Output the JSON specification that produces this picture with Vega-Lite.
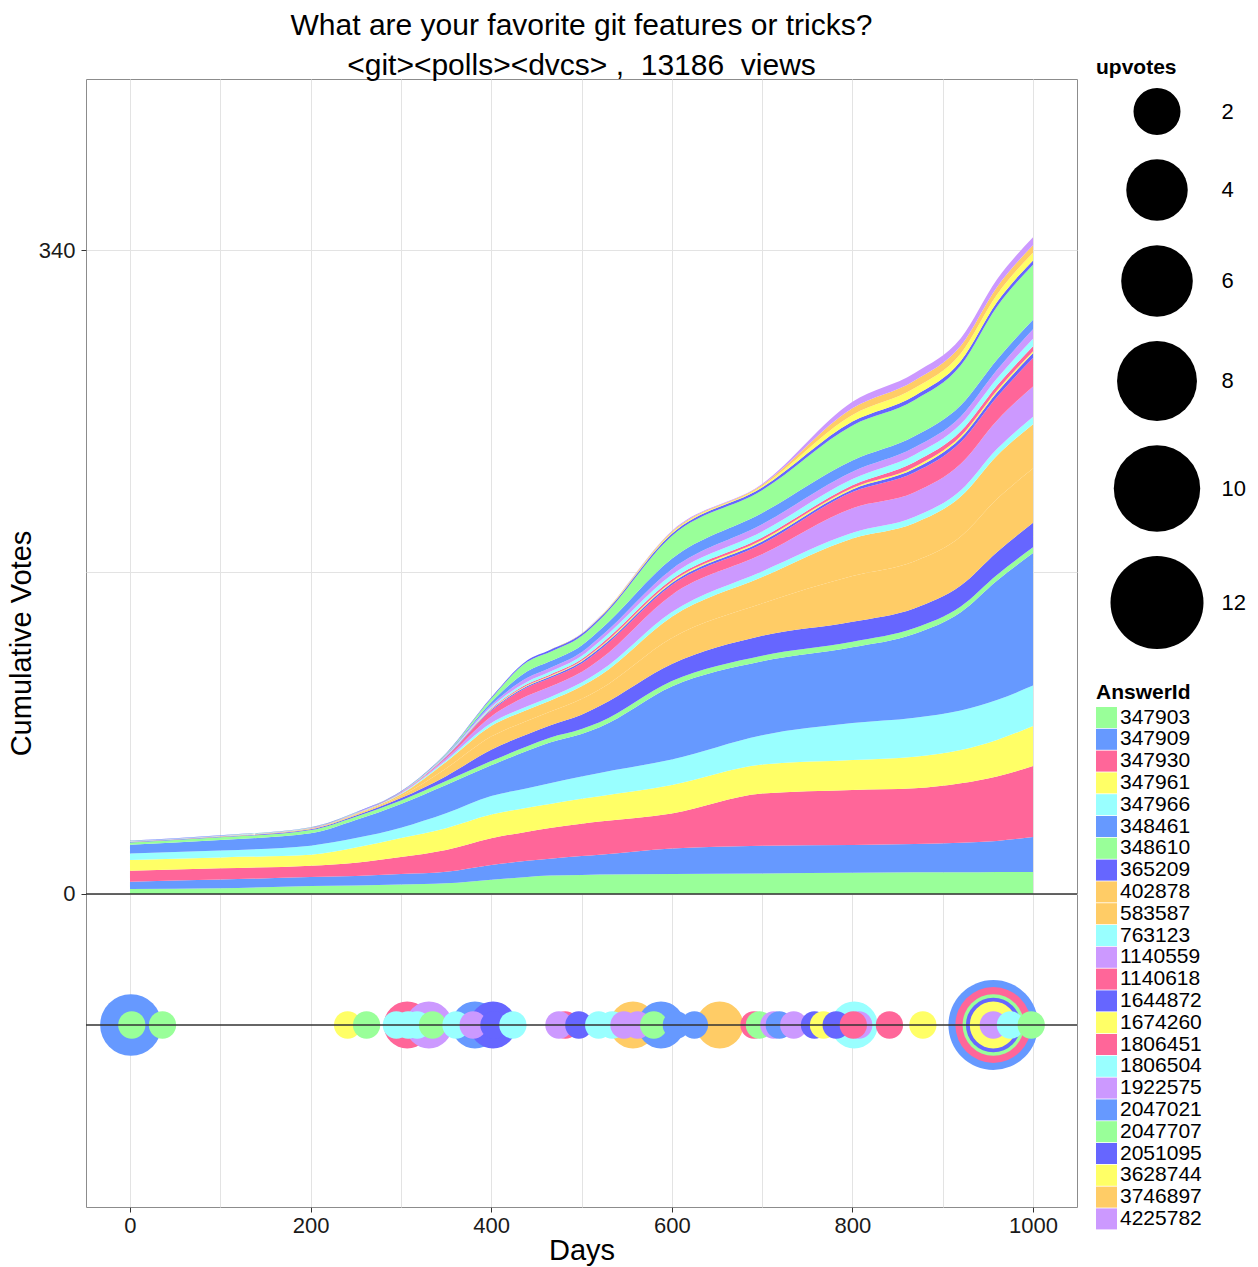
{
"$schema": "https://vega.github.io/schema/vega-lite/v6.json",
"width": 991, "height": 1128,
"autosize": {"type": "none"},
"padding": {"left": 86, "top": 79, "right": 181, "bottom": 60},
"background": "white",
"title": {"text": ["What are your favorite git features or tricks?", "<git><polls><dvcs> ,\u00a0 13186\u00a0 views"], "fontSize": 30, "fontWeight": "normal", "font": "Liberation Sans", "color": "#000", "lineHeight": 40, "anchor": "middle", "frame": "group", "offset": -24},
"datasets": {
"areas": [
{"day":0,"AnswerId":347903,"votes":2.6},{"day":100,"AnswerId":347903,"votes":3.0},{"day":200,"AnswerId":347903,"votes":4.2},{"day":250,"AnswerId":347903,"votes":4.5},{"day":300,"AnswerId":347903,"votes":5.0},{"day":350,"AnswerId":347903,"votes":5.6},{"day":400,"AnswerId":347903,"votes":7.5},{"day":440,"AnswerId":347903,"votes":9.0},{"day":465,"AnswerId":347903,"votes":9.8},{"day":500,"AnswerId":347903,"votes":10.0},{"day":520,"AnswerId":347903,"votes":10.2},{"day":600,"AnswerId":347903,"votes":10.5},{"day":700,"AnswerId":347903,"votes":10.8},{"day":800,"AnswerId":347903,"votes":11.2},{"day":869,"AnswerId":347903,"votes":11.4},{"day":920,"AnswerId":347903,"votes":11.4},{"day":960,"AnswerId":347903,"votes":11.6},{"day":1000,"AnswerId":347903,"votes":11.6},
{"day":0,"AnswerId":347909,"votes":3.9},{"day":100,"AnswerId":347909,"votes":4.6},{"day":200,"AnswerId":347909,"votes":4.7},{"day":250,"AnswerId":347909,"votes":5.0},{"day":300,"AnswerId":347909,"votes":5.5},{"day":350,"AnswerId":347909,"votes":6.1},{"day":400,"AnswerId":347909,"votes":7.8},{"day":440,"AnswerId":347909,"votes":8.5},{"day":465,"AnswerId":347909,"votes":8.8},{"day":500,"AnswerId":347909,"votes":10.0},{"day":520,"AnswerId":347909,"votes":10.5},{"day":600,"AnswerId":347909,"votes":13.5},{"day":700,"AnswerId":347909,"votes":14.7},{"day":800,"AnswerId":347909,"votes":14.7},{"day":869,"AnswerId":347909,"votes":15.0},{"day":920,"AnswerId":347909,"votes":15.6},{"day":960,"AnswerId":347909,"votes":16.4},{"day":1000,"AnswerId":347909,"votes":18.4},
{"day":0,"AnswerId":347930,"votes":5.8},{"day":100,"AnswerId":347930,"votes":5.9},{"day":200,"AnswerId":347930,"votes":6.0},{"day":250,"AnswerId":347930,"votes":7.0},{"day":300,"AnswerId":347930,"votes":9.0},{"day":350,"AnswerId":347930,"votes":11.5},{"day":400,"AnswerId":347930,"votes":14.1},{"day":440,"AnswerId":347930,"votes":15.4},{"day":465,"AnswerId":347930,"votes":16.2},{"day":500,"AnswerId":347930,"votes":17.0},{"day":520,"AnswerId":347930,"votes":17.5},{"day":600,"AnswerId":347930,"votes":18.5},{"day":700,"AnswerId":347930,"votes":27.5},{"day":800,"AnswerId":347930,"votes":29.0},{"day":869,"AnswerId":347930,"votes":29.4},{"day":920,"AnswerId":347930,"votes":31.4},{"day":960,"AnswerId":347930,"votes":34.0},{"day":1000,"AnswerId":347930,"votes":37.6},
{"day":0,"AnswerId":347961,"votes":5.6},{"day":100,"AnswerId":347961,"votes":5.8},{"day":200,"AnswerId":347961,"votes":5.8},{"day":250,"AnswerId":347961,"votes":8.0},{"day":300,"AnswerId":347961,"votes":10.0},{"day":350,"AnswerId":347961,"votes":11.5},{"day":400,"AnswerId":347961,"votes":12.5},{"day":440,"AnswerId":347961,"votes":12.6},{"day":465,"AnswerId":347961,"votes":12.7},{"day":500,"AnswerId":347961,"votes":13.2},{"day":520,"AnswerId":347961,"votes":13.4},{"day":600,"AnswerId":347961,"votes":15.0},{"day":700,"AnswerId":347961,"votes":15.3},{"day":800,"AnswerId":347961,"votes":15.8},{"day":869,"AnswerId":347961,"votes":16.7},{"day":920,"AnswerId":347961,"votes":17.6},{"day":960,"AnswerId":347961,"votes":19.3},{"day":1000,"AnswerId":347961,"votes":21.1},
{"day":0,"AnswerId":347966,"votes":3.5},{"day":100,"AnswerId":347966,"votes":3.6},{"day":200,"AnswerId":347966,"votes":4.8},{"day":250,"AnswerId":347966,"votes":5.0},{"day":300,"AnswerId":347966,"votes":5.5},{"day":350,"AnswerId":347966,"votes":7.9},{"day":400,"AnswerId":347966,"votes":9.8},{"day":440,"AnswerId":347966,"votes":10.3},{"day":465,"AnswerId":347966,"votes":10.9},{"day":500,"AnswerId":347966,"votes":11.8},{"day":520,"AnswerId":347966,"votes":12.3},{"day":600,"AnswerId":347966,"votes":13.5},{"day":700,"AnswerId":347966,"votes":15.5},{"day":800,"AnswerId":347966,"votes":19.5},{"day":869,"AnswerId":347966,"votes":20.5},{"day":920,"AnswerId":347966,"votes":20.8},{"day":960,"AnswerId":347966,"votes":21.1},{"day":1000,"AnswerId":347966,"votes":21.3},
{"day":0,"AnswerId":348461,"votes":4.6},{"day":100,"AnswerId":348461,"votes":5.6},{"day":200,"AnswerId":348461,"votes":6.5},{"day":250,"AnswerId":348461,"votes":9.5},{"day":300,"AnswerId":348461,"votes":12.5},{"day":350,"AnswerId":348461,"votes":14.9},{"day":400,"AnswerId":348461,"votes":16.2},{"day":440,"AnswerId":348461,"votes":19.8},{"day":465,"AnswerId":348461,"votes":21.6},{"day":500,"AnswerId":348461,"votes":22.5},{"day":520,"AnswerId":348461,"votes":24.1},{"day":600,"AnswerId":348461,"votes":38.5},{"day":700,"AnswerId":348461,"votes":39.0},{"day":800,"AnswerId":348461,"votes":40.0},{"day":869,"AnswerId":348461,"votes":44.4},{"day":920,"AnswerId":348461,"votes":52.0},{"day":960,"AnswerId":348461,"votes":63.0},{"day":1000,"AnswerId":348461,"votes":70.0},
{"day":0,"AnswerId":348610,"votes":1.2},{"day":100,"AnswerId":348610,"votes":1.4},{"day":200,"AnswerId":348610,"votes":1.7},{"day":250,"AnswerId":348610,"votes":1.8},{"day":300,"AnswerId":348610,"votes":1.9},{"day":350,"AnswerId":348610,"votes":2.1},{"day":400,"AnswerId":348610,"votes":2.3},{"day":440,"AnswerId":348610,"votes":2.4},{"day":465,"AnswerId":348610,"votes":2.5},{"day":500,"AnswerId":348610,"votes":2.6},{"day":520,"AnswerId":348610,"votes":2.7},{"day":600,"AnswerId":348610,"votes":2.9},{"day":700,"AnswerId":348610,"votes":3.0},{"day":800,"AnswerId":348610,"votes":3.0},{"day":869,"AnswerId":348610,"votes":3.0},{"day":920,"AnswerId":348610,"votes":3.0},{"day":960,"AnswerId":348610,"votes":3.0},{"day":1000,"AnswerId":348610,"votes":3.0},
{"day":0,"AnswerId":365209,"votes":0.2},{"day":100,"AnswerId":365209,"votes":0.3},{"day":200,"AnswerId":365209,"votes":0.4},{"day":250,"AnswerId":365209,"votes":0.6},{"day":300,"AnswerId":365209,"votes":1.2},{"day":350,"AnswerId":365209,"votes":2.6},{"day":400,"AnswerId":365209,"votes":6.0},{"day":440,"AnswerId":365209,"votes":6.3},{"day":465,"AnswerId":365209,"votes":6.5},{"day":500,"AnswerId":365209,"votes":7.5},{"day":520,"AnswerId":365209,"votes":8.5},{"day":600,"AnswerId":365209,"votes":9.0},{"day":700,"AnswerId":365209,"votes":10.5},{"day":800,"AnswerId":365209,"votes":10.5},{"day":869,"AnswerId":365209,"votes":10.5},{"day":920,"AnswerId":365209,"votes":11.0},{"day":960,"AnswerId":365209,"votes":12.0},{"day":1000,"AnswerId":365209,"votes":13.0},
{"day":0,"AnswerId":402878,"votes":0.1},{"day":100,"AnswerId":402878,"votes":0.1},{"day":200,"AnswerId":402878,"votes":0.2},{"day":250,"AnswerId":402878,"votes":0.4},{"day":300,"AnswerId":402878,"votes":1.1},{"day":350,"AnswerId":402878,"votes":4.1},{"day":400,"AnswerId":402878,"votes":6.9},{"day":440,"AnswerId":402878,"votes":7.2},{"day":465,"AnswerId":402878,"votes":7.2},{"day":500,"AnswerId":402878,"votes":8.3},{"day":520,"AnswerId":402878,"votes":8.8},{"day":600,"AnswerId":402878,"votes":13.8},{"day":700,"AnswerId":402878,"votes":17.1},{"day":800,"AnswerId":402878,"votes":24.2},{"day":869,"AnswerId":402878,"votes":24.8},{"day":920,"AnswerId":402878,"votes":25.9},{"day":960,"AnswerId":402878,"votes":28.1},{"day":1000,"AnswerId":402878,"votes":28.6},
{"day":0,"AnswerId":583587,"votes":0.1},{"day":100,"AnswerId":583587,"votes":0.1},{"day":200,"AnswerId":583587,"votes":0.2},{"day":250,"AnswerId":583587,"votes":0.4},{"day":300,"AnswerId":583587,"votes":0.9},{"day":350,"AnswerId":583587,"votes":3.4},{"day":400,"AnswerId":583587,"votes":5.6},{"day":440,"AnswerId":583587,"votes":5.8},{"day":465,"AnswerId":583587,"votes":5.8},{"day":500,"AnswerId":583587,"votes":6.7},{"day":520,"AnswerId":583587,"votes":7.2},{"day":600,"AnswerId":583587,"votes":11.2},{"day":700,"AnswerId":583587,"votes":13.9},{"day":800,"AnswerId":583587,"votes":19.8},{"day":869,"AnswerId":583587,"votes":20.2},{"day":920,"AnswerId":583587,"votes":21.1},{"day":960,"AnswerId":583587,"votes":22.9},{"day":1000,"AnswerId":583587,"votes":23.4},
{"day":0,"AnswerId":763123,"votes":0.1},{"day":100,"AnswerId":763123,"votes":0.1},{"day":200,"AnswerId":763123,"votes":0.1},{"day":250,"AnswerId":763123,"votes":0.2},{"day":300,"AnswerId":763123,"votes":0.4},{"day":350,"AnswerId":763123,"votes":0.8},{"day":400,"AnswerId":763123,"votes":1.5},{"day":440,"AnswerId":763123,"votes":1.8},{"day":465,"AnswerId":763123,"votes":1.9},{"day":500,"AnswerId":763123,"votes":2.0},{"day":520,"AnswerId":763123,"votes":2.2},{"day":600,"AnswerId":763123,"votes":2.5},{"day":700,"AnswerId":763123,"votes":3.0},{"day":800,"AnswerId":763123,"votes":3.0},{"day":869,"AnswerId":763123,"votes":3.2},{"day":920,"AnswerId":763123,"votes":3.3},{"day":960,"AnswerId":763123,"votes":3.5},{"day":1000,"AnswerId":763123,"votes":4.0},
{"day":0,"AnswerId":1140559,"votes":0.1},{"day":100,"AnswerId":1140559,"votes":0.1},{"day":200,"AnswerId":1140559,"votes":0.1},{"day":250,"AnswerId":1140559,"votes":0.1},{"day":300,"AnswerId":1140559,"votes":0.3},{"day":350,"AnswerId":1140559,"votes":1.0},{"day":400,"AnswerId":1140559,"votes":3.5},{"day":440,"AnswerId":1140559,"votes":5.5},{"day":465,"AnswerId":1140559,"votes":5.5},{"day":500,"AnswerId":1140559,"votes":5.6},{"day":520,"AnswerId":1140559,"votes":6.3},{"day":600,"AnswerId":1140559,"votes":9.0},{"day":700,"AnswerId":1140559,"votes":9.0},{"day":800,"AnswerId":1140559,"votes":13.0},{"day":869,"AnswerId":1140559,"votes":13.0},{"day":920,"AnswerId":1140559,"votes":14.0},{"day":960,"AnswerId":1140559,"votes":15.0},{"day":1000,"AnswerId":1140559,"votes":16.0},
{"day":0,"AnswerId":1140618,"votes":0},{"day":100,"AnswerId":1140618,"votes":0},{"day":200,"AnswerId":1140618,"votes":0.1},{"day":250,"AnswerId":1140618,"votes":0.1},{"day":300,"AnswerId":1140618,"votes":0.2},{"day":350,"AnswerId":1140618,"votes":0.7},{"day":400,"AnswerId":1140618,"votes":3.0},{"day":440,"AnswerId":1140618,"votes":4.5},{"day":465,"AnswerId":1140618,"votes":4.5},{"day":500,"AnswerId":1140618,"votes":4.5},{"day":520,"AnswerId":1140618,"votes":5.0},{"day":600,"AnswerId":1140618,"votes":5.2},{"day":700,"AnswerId":1140618,"votes":5.5},{"day":800,"AnswerId":1140618,"votes":8.5},{"day":869,"AnswerId":1140618,"votes":10.5},{"day":920,"AnswerId":1140618,"votes":11.5},{"day":960,"AnswerId":1140618,"votes":12.5},{"day":1000,"AnswerId":1140618,"votes":15.0},
{"day":0,"AnswerId":1644872,"votes":0},{"day":100,"AnswerId":1644872,"votes":0},{"day":200,"AnswerId":1644872,"votes":0},{"day":250,"AnswerId":1644872,"votes":0},{"day":300,"AnswerId":1644872,"votes":0},{"day":350,"AnswerId":1644872,"votes":0.2},{"day":400,"AnswerId":1644872,"votes":0.5},{"day":440,"AnswerId":1644872,"votes":0.7},{"day":465,"AnswerId":1644872,"votes":0.8},{"day":500,"AnswerId":1644872,"votes":0.9},{"day":520,"AnswerId":1644872,"votes":1.0},{"day":600,"AnswerId":1644872,"votes":1.1},{"day":700,"AnswerId":1644872,"votes":1.3},{"day":800,"AnswerId":1644872,"votes":1.4},{"day":869,"AnswerId":1644872,"votes":2.0},{"day":920,"AnswerId":1644872,"votes":2.2},{"day":960,"AnswerId":1644872,"votes":2.4},{"day":1000,"AnswerId":1644872,"votes":2.6},
{"day":0,"AnswerId":1674260,"votes":0},{"day":100,"AnswerId":1674260,"votes":0},{"day":200,"AnswerId":1674260,"votes":0},{"day":250,"AnswerId":1674260,"votes":0},{"day":300,"AnswerId":1674260,"votes":0},{"day":350,"AnswerId":1674260,"votes":0.1},{"day":400,"AnswerId":1674260,"votes":0.3},{"day":440,"AnswerId":1674260,"votes":0.4},{"day":465,"AnswerId":1674260,"votes":0.4},{"day":500,"AnswerId":1674260,"votes":0.5},{"day":520,"AnswerId":1674260,"votes":0.6},{"day":600,"AnswerId":1674260,"votes":0.7},{"day":700,"AnswerId":1674260,"votes":0.8},{"day":800,"AnswerId":1674260,"votes":0.8},{"day":869,"AnswerId":1674260,"votes":1.0},{"day":920,"AnswerId":1674260,"votes":1.0},{"day":960,"AnswerId":1674260,"votes":1.0},{"day":1000,"AnswerId":1674260,"votes":1.0},
{"day":0,"AnswerId":1806451,"votes":0},{"day":100,"AnswerId":1806451,"votes":0},{"day":200,"AnswerId":1806451,"votes":0},{"day":250,"AnswerId":1806451,"votes":0},{"day":300,"AnswerId":1806451,"votes":0},{"day":350,"AnswerId":1806451,"votes":0.1},{"day":400,"AnswerId":1806451,"votes":0.4},{"day":440,"AnswerId":1806451,"votes":0.6},{"day":465,"AnswerId":1806451,"votes":0.7},{"day":500,"AnswerId":1806451,"votes":0.8},{"day":520,"AnswerId":1806451,"votes":1.0},{"day":600,"AnswerId":1806451,"votes":1.1},{"day":700,"AnswerId":1806451,"votes":1.3},{"day":800,"AnswerId":1806451,"votes":1.4},{"day":869,"AnswerId":1806451,"votes":2.5},{"day":920,"AnswerId":1806451,"votes":2.5},{"day":960,"AnswerId":1806451,"votes":2.5},{"day":1000,"AnswerId":1806451,"votes":2.6},
{"day":0,"AnswerId":1806504,"votes":0.1},{"day":100,"AnswerId":1806504,"votes":0.1},{"day":200,"AnswerId":1806504,"votes":0.1},{"day":250,"AnswerId":1806504,"votes":0.1},{"day":300,"AnswerId":1806504,"votes":0.1},{"day":350,"AnswerId":1806504,"votes":0.3},{"day":400,"AnswerId":1806504,"votes":0.8},{"day":440,"AnswerId":1806504,"votes":1.3},{"day":465,"AnswerId":1806504,"votes":1.5},{"day":500,"AnswerId":1806504,"votes":1.7},{"day":520,"AnswerId":1806504,"votes":2.0},{"day":600,"AnswerId":1806504,"votes":2.5},{"day":700,"AnswerId":1806504,"votes":3.2},{"day":800,"AnswerId":1806504,"votes":3.3},{"day":869,"AnswerId":1806504,"votes":3.8},{"day":920,"AnswerId":1806504,"votes":3.8},{"day":960,"AnswerId":1806504,"votes":3.8},{"day":1000,"AnswerId":1806504,"votes":4.0},
{"day":0,"AnswerId":1922575,"votes":0},{"day":100,"AnswerId":1922575,"votes":0},{"day":200,"AnswerId":1922575,"votes":0},{"day":250,"AnswerId":1922575,"votes":0.1},{"day":300,"AnswerId":1922575,"votes":0.1},{"day":350,"AnswerId":1922575,"votes":0.3},{"day":400,"AnswerId":1922575,"votes":1.0},{"day":440,"AnswerId":1922575,"votes":2.0},{"day":465,"AnswerId":1922575,"votes":2.0},{"day":500,"AnswerId":1922575,"votes":2.0},{"day":520,"AnswerId":1922575,"votes":2.1},{"day":600,"AnswerId":1922575,"votes":3.0},{"day":700,"AnswerId":1922575,"votes":3.8},{"day":800,"AnswerId":1922575,"votes":3.8},{"day":869,"AnswerId":1922575,"votes":3.9},{"day":920,"AnswerId":1922575,"votes":4.0},{"day":960,"AnswerId":1922575,"votes":4.5},{"day":1000,"AnswerId":1922575,"votes":5.0},
{"day":0,"AnswerId":2047021,"votes":0.1},{"day":100,"AnswerId":2047021,"votes":0.1},{"day":200,"AnswerId":2047021,"votes":0.1},{"day":250,"AnswerId":2047021,"votes":0.1},{"day":300,"AnswerId":2047021,"votes":0.1},{"day":350,"AnswerId":2047021,"votes":0.3},{"day":400,"AnswerId":2047021,"votes":1.5},{"day":440,"AnswerId":2047021,"votes":3.5},{"day":465,"AnswerId":2047021,"votes":3.5},{"day":500,"AnswerId":2047021,"votes":3.6},{"day":520,"AnswerId":2047021,"votes":3.8},{"day":600,"AnswerId":2047021,"votes":5.5},{"day":700,"AnswerId":2047021,"votes":6.0},{"day":800,"AnswerId":2047021,"votes":6.0},{"day":869,"AnswerId":2047021,"votes":6.0},{"day":920,"AnswerId":2047021,"votes":6.0},{"day":960,"AnswerId":2047021,"votes":5.5},{"day":1000,"AnswerId":2047021,"votes":5.0},
{"day":0,"AnswerId":2047707,"votes":0.1},{"day":100,"AnswerId":2047707,"votes":0.1},{"day":200,"AnswerId":2047707,"votes":0.1},{"day":250,"AnswerId":2047707,"votes":0.1},{"day":300,"AnswerId":2047707,"votes":0.2},{"day":350,"AnswerId":2047707,"votes":0.5},{"day":400,"AnswerId":2047707,"votes":2.0},{"day":440,"AnswerId":2047707,"votes":5.0},{"day":465,"AnswerId":2047707,"votes":5.0},{"day":500,"AnswerId":2047707,"votes":5.0},{"day":520,"AnswerId":2047707,"votes":5.5},{"day":600,"AnswerId":2047707,"votes":12.0},{"day":700,"AnswerId":2047707,"votes":12.0},{"day":800,"AnswerId":2047707,"votes":18.5},{"day":869,"AnswerId":2047707,"votes":19.0},{"day":920,"AnswerId":2047707,"votes":21.0},{"day":960,"AnswerId":2047707,"votes":28.0},{"day":1000,"AnswerId":2047707,"votes":29.0},
{"day":0,"AnswerId":2051095,"votes":0.1},{"day":100,"AnswerId":2051095,"votes":0.1},{"day":200,"AnswerId":2051095,"votes":0.1},{"day":250,"AnswerId":2051095,"votes":0.1},{"day":300,"AnswerId":2051095,"votes":0.2},{"day":350,"AnswerId":2051095,"votes":0.3},{"day":400,"AnswerId":2051095,"votes":0.5},{"day":440,"AnswerId":2051095,"votes":0.8},{"day":465,"AnswerId":2051095,"votes":1.0},{"day":500,"AnswerId":2051095,"votes":1.0},{"day":520,"AnswerId":2051095,"votes":1.0},{"day":600,"AnswerId":2051095,"votes":1.2},{"day":700,"AnswerId":2051095,"votes":1.4},{"day":800,"AnswerId":2051095,"votes":2.0},{"day":869,"AnswerId":2051095,"votes":2.3},{"day":920,"AnswerId":2051095,"votes":2.3},{"day":960,"AnswerId":2051095,"votes":2.3},{"day":1000,"AnswerId":2051095,"votes":2.3},
{"day":0,"AnswerId":3628744,"votes":0},{"day":100,"AnswerId":3628744,"votes":0},{"day":200,"AnswerId":3628744,"votes":0},{"day":250,"AnswerId":3628744,"votes":0},{"day":300,"AnswerId":3628744,"votes":0},{"day":350,"AnswerId":3628744,"votes":0},{"day":400,"AnswerId":3628744,"votes":0},{"day":440,"AnswerId":3628744,"votes":0},{"day":465,"AnswerId":3628744,"votes":0},{"day":500,"AnswerId":3628744,"votes":0.1},{"day":520,"AnswerId":3628744,"votes":0.2},{"day":600,"AnswerId":3628744,"votes":0.5},{"day":700,"AnswerId":3628744,"votes":0.7},{"day":800,"AnswerId":3628744,"votes":3.5},{"day":869,"AnswerId":3628744,"votes":4.0},{"day":920,"AnswerId":3628744,"votes":4.0},{"day":960,"AnswerId":3628744,"votes":4.0},{"day":1000,"AnswerId":3628744,"votes":4.0},
{"day":0,"AnswerId":3746897,"votes":0},{"day":100,"AnswerId":3746897,"votes":0},{"day":200,"AnswerId":3746897,"votes":0},{"day":250,"AnswerId":3746897,"votes":0},{"day":300,"AnswerId":3746897,"votes":0},{"day":350,"AnswerId":3746897,"votes":0},{"day":400,"AnswerId":3746897,"votes":0},{"day":440,"AnswerId":3746897,"votes":0},{"day":465,"AnswerId":3746897,"votes":0},{"day":500,"AnswerId":3746897,"votes":0.1},{"day":520,"AnswerId":3746897,"votes":0.2},{"day":600,"AnswerId":3746897,"votes":0.5},{"day":700,"AnswerId":3746897,"votes":0.6},{"day":800,"AnswerId":3746897,"votes":3.5},{"day":869,"AnswerId":3746897,"votes":4.0},{"day":920,"AnswerId":3746897,"votes":4.0},{"day":960,"AnswerId":3746897,"votes":4.0},{"day":1000,"AnswerId":3746897,"votes":4.0},
{"day":0,"AnswerId":4225782,"votes":0},{"day":100,"AnswerId":4225782,"votes":0},{"day":200,"AnswerId":4225782,"votes":0},{"day":250,"AnswerId":4225782,"votes":0},{"day":300,"AnswerId":4225782,"votes":0},{"day":350,"AnswerId":4225782,"votes":0},{"day":400,"AnswerId":4225782,"votes":0},{"day":440,"AnswerId":4225782,"votes":0},{"day":465,"AnswerId":4225782,"votes":0},{"day":500,"AnswerId":4225782,"votes":0.1},{"day":520,"AnswerId":4225782,"votes":0.2},{"day":600,"AnswerId":4225782,"votes":0.5},{"day":700,"AnswerId":4225782,"votes":0.6},{"day":800,"AnswerId":4225782,"votes":3.5},{"day":869,"AnswerId":4225782,"votes":4.0},{"day":920,"AnswerId":4225782,"votes":4.0},{"day":960,"AnswerId":4225782,"votes":4.0},{"day":1000,"AnswerId":4225782,"votes":4.2}
],
"bubbles": [
{"day":1,"AnswerId":348461,"upvotes":4},{"day":2,"AnswerId":347903,"upvotes":1},{"day":36,"AnswerId":348610,"upvotes":1},{"day":241,"AnswerId":347961,"upvotes":1},{"day":262,"AnswerId":347903,"upvotes":1},{"day":307,"AnswerId":347930,"upvotes":2},{"day":295,"AnswerId":347966,"upvotes":1},{"day":308,"AnswerId":763123,"upvotes":1},{"day":318,"AnswerId":1806504,"upvotes":1},{"day":331,"AnswerId":1140559,"upvotes":2},{"day":335,"AnswerId":348610,"upvotes":1},{"day":361,"AnswerId":347966,"upvotes":1},{"day":382,"AnswerId":347909,"upvotes":2},{"day":380,"AnswerId":1922575,"upvotes":1},{"day":402,"AnswerId":2051095,"upvotes":2},{"day":403,"AnswerId":1644872,"upvotes":1},{"day":424,"AnswerId":1806504,"upvotes":1},{"day":482,"AnswerId":1140618,"upvotes":1},{"day":475,"AnswerId":1140559,"upvotes":1},{"day":497,"AnswerId":365209,"upvotes":1},{"day":519,"AnswerId":763123,"upvotes":1},{"day":534,"AnswerId":1806504,"upvotes":1},{"day":557,"AnswerId":402878,"upvotes":2},{"day":547,"AnswerId":1922575,"upvotes":1},{"day":562,"AnswerId":4225782,"upvotes":1},{"day":580,"AnswerId":2047707,"upvotes":1},{"day":588,"AnswerId":2047021,"upvotes":2},{"day":605,"AnswerId":347909,"upvotes":1},{"day":625,"AnswerId":2047021,"upvotes":1},{"day":653,"AnswerId":583587,"upvotes":2},{"day":691,"AnswerId":1806451,"upvotes":1},{"day":697,"AnswerId":348610,"upvotes":1},{"day":713,"AnswerId":1922575,"upvotes":1},{"day":719,"AnswerId":348461,"upvotes":1},{"day":735,"AnswerId":4225782,"upvotes":1},{"day":758,"AnswerId":1644872,"upvotes":1},{"day":768,"AnswerId":1674260,"upvotes":1},{"day":782,"AnswerId":2051095,"upvotes":1},{"day":802,"AnswerId":763123,"upvotes":2},{"day":807,"AnswerId":1140559,"upvotes":1},{"day":801,"AnswerId":1140618,"upvotes":1},{"day":841,"AnswerId":1806451,"upvotes":1},{"day":878,"AnswerId":3628744,"upvotes":1},{"day":956,"AnswerId":2047021,"upvotes":11},{"day":956,"AnswerId":1806451,"upvotes":7},{"day":956,"AnswerId":2047707,"upvotes":4},{"day":956,"AnswerId":2051095,"upvotes":3},{"day":956,"AnswerId":3628744,"upvotes":2},{"day":956,"AnswerId":4225782,"upvotes":1},{"day":975,"AnswerId":1806504,"upvotes":1},{"day":998,"AnswerId":2047707,"upvotes":1}
]
},
"layer": [
{
"data": {"name": "areas"},
"mark": {"type": "area", "interpolate": "monotone", "opacity": 1},
"encoding": {
"x": {"field": "day", "type": "quantitative", "title": "Days",
"scale": {"domain": [-48.7, 1048.7], "nice": false, "zero": false},
"axis": {"values": [0,100,200,300,400,500,600,700,800,900,1000], "format": "d", "labelExpr": "datum.value % 200 === 0 ? datum.label : ''", "tickOpacity": {"condition": {"test": "datum.value % 200 === 0", "value": 1}, "value": 0}, "titlePadding": 0, "labelPadding": 3, "labelFlush": false}},
"y": {"field": "votes", "type": "quantitative", "stack": "zero", "title": "Cumulative Votes",
"scale": {"domain": [-165.3, 430.3], "nice": false, "zero": false},
"axis": {"values": [0, 170, 340], "labelExpr": "datum.value === 170 ? '' : datum.label", "tickOpacity": {"condition": {"test": "datum.value === 170", "value": 0}, "value": 1}, "titlePadding": 2, "labelPadding": 6}},
"color": {"field": "AnswerId", "type": "nominal", "title": "AnswerId",
"scale": {"domain": [347903,347909,347930,347961,347966,348461,348610,365209,402878,583587,763123,1140559,1140618,1644872,1674260,1806451,1806504,1922575,2047021,2047707,2051095,3628744,3746897,4225782],
"range": ["#99FF99","#6699FF","#FF6699","#FFFF66","#99FFFF","#6699FF","#99FF99","#6666FF","#FFCC66","#FFCC66","#99FFFF","#CC99FF","#FF6699","#6666FF","#FFFF66","#FF6699","#99FFFF","#CC99FF","#6699FF","#99FF99","#6666FF","#FFFF66","#FFCC66","#CC99FF"]},
"legend": {"orient": "none", "legendX": 1010, "legendY": 603, "symbolType": "square", "symbolSize": 441, "symbolStrokeWidth": 0, "labelFontSize": 21, "rowPadding": -0.2, "labelOffset": 3, "titlePadding": 4, "titleFontSize": 21}},
"order": {"field": "AnswerId", "type": "quantitative", "sort": "ascending"}
}
},
{
"data": {"name": "bubbles"},
"mark": {"type": "circle", "opacity": 1, "strokeWidth": 0},
"encoding": {
"x": {"field": "day", "type": "quantitative", "title": "Days"},
"y": {"datum": -69.2},
"color": {"field": "AnswerId", "type": "nominal", "title": "AnswerId"},
"size": {"field": "upvotes", "type": "quantitative", "title": "upvotes",
"scale": {"type": "linear", "domain": [1,2,4,6,8,10,12], "range": [745,2209,3782,5127,6384,7465,8649], "zero": false, "nice": false},
"legend": {"orient": "none", "legendX": 1010, "legendY": -22, "values": [2,4,6,8,10,12], "symbolType": "circle", "symbolFillColor": "black", "symbolStrokeColor": "black", "symbolStrokeWidth": 0, "symbolOpacity": 1, "symbolOffset": 14.5, "rowPadding": 24, "labelOffset": 18, "labelFontSize": 22, "titlePadding": 10, "titleFontSize": 21}},
"order": {"field": "upvotes", "type": "quantitative", "sort": "descending"}
}
},
{
"data": {"values": [{}]},
"mark": {"type": "rule", "color": "#333333", "strokeWidth": 1.5},
"encoding": {"y": {"datum": 0}}
},
{
"data": {"values": [{}]},
"mark": {"type": "rule", "color": "#333333", "strokeWidth": 1.5},
"encoding": {"y": {"datum": -69.2}}
}
],
"config": {
"font": "Liberation Sans",
"view": {"stroke": "#8c8c8c", "strokeWidth": 1},
"axis": {"domain": false, "grid": true, "gridColor": "#E3E3E3", "gridWidth": 1, "labelFontSize": 22, "labelColor": "#1a1a1a", "titleFontSize": 29, "titleFontWeight": "normal", "titleColor": "#000", "tickColor": "#333333", "tickSize": 5},
"legend": {"titleFontWeight": "bold", "titleColor": "#000", "labelColor": "#000", "titleFontSize": 21}
}
}
